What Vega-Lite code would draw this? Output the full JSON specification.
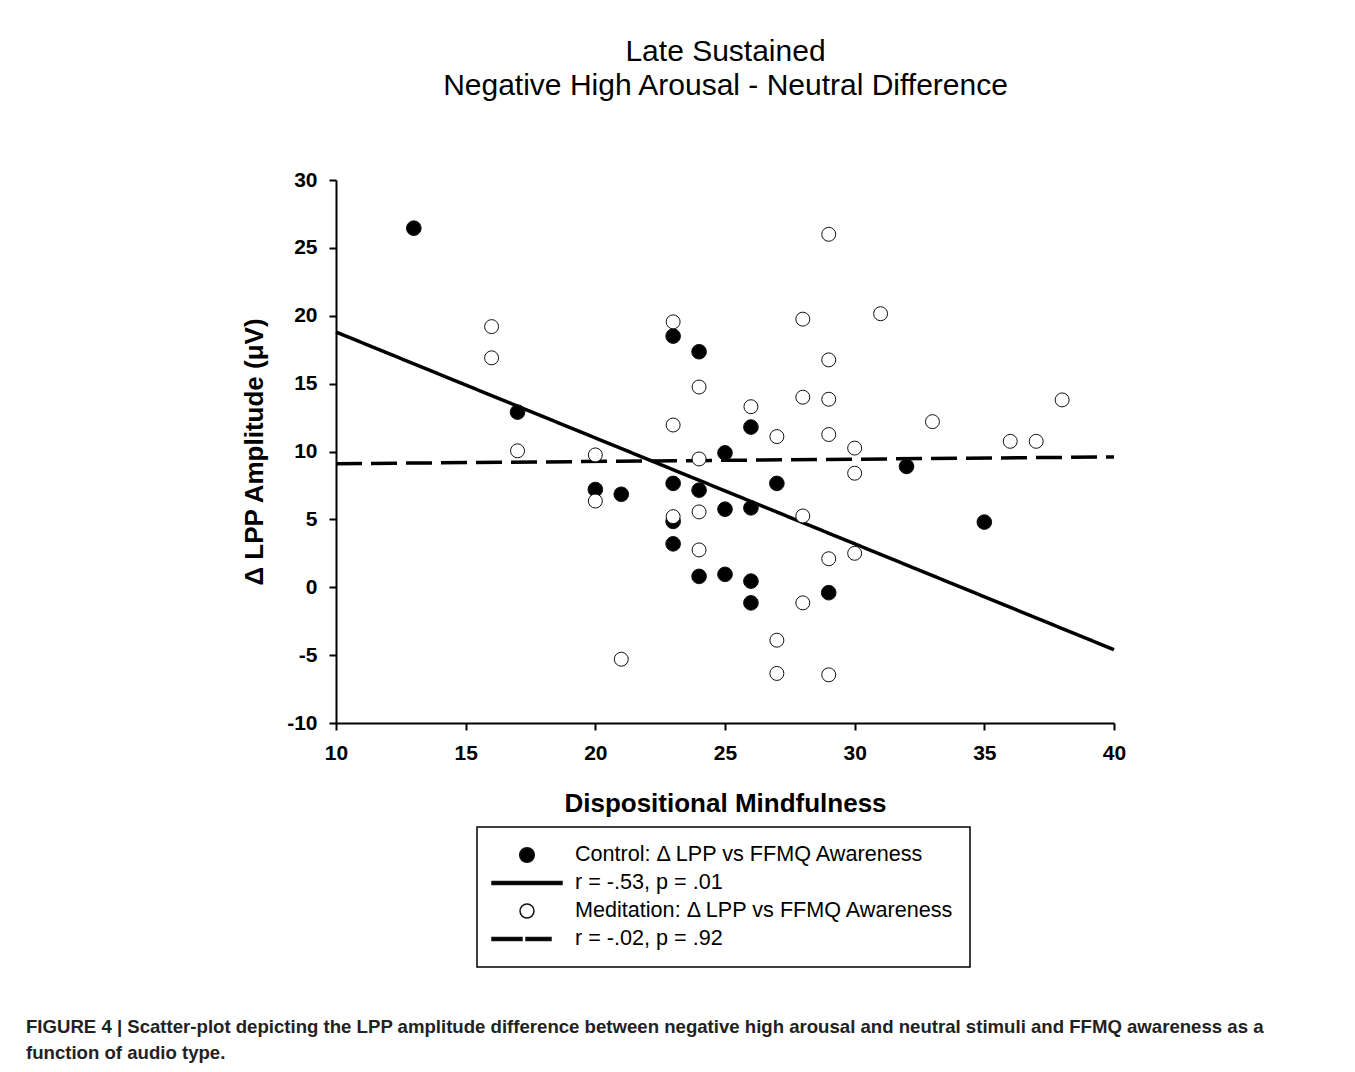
{
  "$schema": "https://vega.github.io/schema/vega-lite/v6.json",
  "autosize": "none",
  "padding": {"left": 336, "top": 180, "right": 241, "bottom": 349},
  "width": 778,
  "height": 543,
  "background": "white",
  "config": {
    "font": "Liberation Sans",
    "view": {"stroke": null},
    "legend": {"strokeWidth": 1.5},
    "axis": {
      "grid": false,
      "domainColor": "black",
      "domainWidth": 2,
      "tickColor": "black",
      "tickWidth": 2,
      "tickSize": 7,
      "labelFont": "Liberation Sans",
      "labelFontSize": 21,
      "labelFontWeight": "bold",
      "labelColor": "black",
      "titleFont": "Liberation Sans",
      "titleColor": "black",
      "titleFontWeight": "bold"
    }
  },
  "title": {
    "text": [
      "FIGURE 4 | Scatter-plot depicting the LPP amplitude difference between negative high arousal and neutral stimuli and FFMQ awareness as a",
      "function of audio type."
    ],
    "orient": "bottom",
    "anchor": "start",
    "frame": "group",
    "dx": -310,
    "offset": 50,
    "font": "Liberation Sans",
    "fontSize": 18.6,
    "fontWeight": "bold",
    "color": "#222222",
    "lineHeight": 26
  },
  "datasets": {
    "fits": [
      {"series": "Control fit", "x": 10, "y": 18.8},
      {"series": "Control fit", "x": 40, "y": -4.6},
      {"series": "Meditation fit", "x": 10, "y": 9.1},
      {"series": "Meditation fit", "x": 40, "y": 9.6}
    ],
    "points": [
      {"group": "Control", "x": 13, "y": 26.45},
      {"group": "Control", "x": 17, "y": 12.9},
      {"group": "Control", "x": 20, "y": 7.2},
      {"group": "Control", "x": 21, "y": 6.85},
      {"group": "Control", "x": 23, "y": 18.5},
      {"group": "Control", "x": 23, "y": 7.65},
      {"group": "Control", "x": 23, "y": 4.85},
      {"group": "Control", "x": 23, "y": 3.2},
      {"group": "Control", "x": 24, "y": 17.35},
      {"group": "Control", "x": 24, "y": 7.15},
      {"group": "Control", "x": 24, "y": 0.8},
      {"group": "Control", "x": 25, "y": 9.9},
      {"group": "Control", "x": 25, "y": 5.75},
      {"group": "Control", "x": 25, "y": 0.95},
      {"group": "Control", "x": 26, "y": 11.8},
      {"group": "Control", "x": 26, "y": 5.85},
      {"group": "Control", "x": 26, "y": 0.45},
      {"group": "Control", "x": 26, "y": -1.15},
      {"group": "Control", "x": 27, "y": 7.65},
      {"group": "Control", "x": 29, "y": -0.4},
      {"group": "Control", "x": 32, "y": 8.9},
      {"group": "Control", "x": 35, "y": 4.8},
      {"group": "Meditation", "x": 16, "y": 19.2},
      {"group": "Meditation", "x": 16, "y": 16.9},
      {"group": "Meditation", "x": 17, "y": 10.05},
      {"group": "Meditation", "x": 20, "y": 9.75},
      {"group": "Meditation", "x": 20, "y": 6.35},
      {"group": "Meditation", "x": 21, "y": -5.3},
      {"group": "Meditation", "x": 23, "y": 19.55},
      {"group": "Meditation", "x": 23, "y": 11.95},
      {"group": "Meditation", "x": 23, "y": 5.2},
      {"group": "Meditation", "x": 24, "y": 14.75},
      {"group": "Meditation", "x": 24, "y": 9.45},
      {"group": "Meditation", "x": 24, "y": 5.55},
      {"group": "Meditation", "x": 24, "y": 2.75},
      {"group": "Meditation", "x": 26, "y": 13.3},
      {"group": "Meditation", "x": 27, "y": 11.1},
      {"group": "Meditation", "x": 27, "y": -3.9},
      {"group": "Meditation", "x": 27, "y": -6.35},
      {"group": "Meditation", "x": 28, "y": 19.75},
      {"group": "Meditation", "x": 28, "y": 14.0},
      {"group": "Meditation", "x": 28, "y": 5.25},
      {"group": "Meditation", "x": 28, "y": -1.15},
      {"group": "Meditation", "x": 29, "y": 26.0},
      {"group": "Meditation", "x": 29, "y": 16.75},
      {"group": "Meditation", "x": 29, "y": 13.85},
      {"group": "Meditation", "x": 29, "y": 11.25},
      {"group": "Meditation", "x": 29, "y": 2.1},
      {"group": "Meditation", "x": 29, "y": -6.45},
      {"group": "Meditation", "x": 30, "y": 10.25},
      {"group": "Meditation", "x": 30, "y": 8.4},
      {"group": "Meditation", "x": 30, "y": 2.5},
      {"group": "Meditation", "x": 31, "y": 20.15},
      {"group": "Meditation", "x": 33, "y": 12.2},
      {"group": "Meditation", "x": 36, "y": 10.75},
      {"group": "Meditation", "x": 37, "y": 10.75},
      {"group": "Meditation", "x": 38, "y": 13.8}
    ]
  },
  "layer": [
    {
      "data": {"name": "fits"},
      "mark": {"type": "line", "color": "black", "strokeWidth": 3.5, "strokeCap": "butt"},
      "encoding": {
        "x": {
          "field": "x",
          "type": "quantitative",
          "scale": {"domain": [10, 40], "nice": false, "zero": false},
          "axis": {
            "orient": "top",
            "domain": false,
            "ticks": false,
            "labels": false,
            "grid": false,
            "title": ["Late Sustained", "Negative High Arousal - Neutral Difference"],
            "titleFontSize": 30,
            "titleFontWeight": "normal",
            "titleLineHeight": 34,
            "titlePadding": 80
          }
        },
        "y": {
          "field": "y",
          "type": "quantitative",
          "scale": {"domain": [-10, 30], "nice": false, "zero": false},
          "title": "Δ LPP Amplitude (μV)"
        },
        "strokeDash": {
          "field": "series",
          "type": "nominal",
          "scale": {"domain": ["Control fit", "Meditation fit"], "range": [[1, 0], [26, 9]]},
          "legend": null
        }
      }
    },
    {
      "data": {"name": "points"},
      "mark": {"type": "point", "filled": true, "stroke": "#111111", "strokeWidth": 1, "opacity": 1},
      "encoding": {
        "x": {
          "field": "x",
          "type": "quantitative",
          "axis": {
            "title": "Dispositional Mindfulness",
            "values": [10, 15, 20, 25, 30, 35, 40],
            "titleFontSize": 26,
            "titlePadding": 27,
            "labelPadding": 12,
            "labelFlush": false
          }
        },
        "y": {
          "field": "y",
          "type": "quantitative",
          "axis": {
            "title": "Δ LPP Amplitude (μV)",
            "values": [-10, -5, 0, 5, 10, 15, 20, 25, 30],
            "labelExpr": "'' + datum.value",
            "titleFontSize": 26,
            "titlePadding": 19,
            "labelPadding": 12,
            "labelFlush": false
          }
        },
        "fill": {
          "field": "group",
          "type": "nominal",
          "scale": {"domain": ["Control", "Control fit", "Meditation", "Meditation fit"], "range": ["black", "black", "white", "black"]},
          "legend": {
            "title": null,
            "orient": "none",
            "legendX": 141,
            "legendY": 647,
            "padding": 14,
            "strokeColor": "black",
            "fillColor": "white",
            "rowPadding": 0,
            "clipHeight": 28,
            "labelOffset": 12,
            "labelFont": "Liberation Sans",
            "labelFontSize": 21.6,
            "labelColor": "black",
            "labelLimit": 600,
            "labelExpr": "datum.value == 'Control' ? 'Control: Δ LPP vs FFMQ Awareness' : datum.value == 'Control fit' ? 'r = -.53, p = .01' : datum.value == 'Meditation' ? 'Meditation: Δ LPP vs FFMQ Awareness' : 'r = -.02, p = .92'"
          }
        },
        "shape": {
          "field": "group",
          "type": "nominal",
          "scale": {
            "domain": ["Control", "Control fit", "Meditation", "Meditation fit"],
            "range": [
              "circle",
              "M-1,-0.043H1V0.043H-1Z",
              "circle",
              "M-1,-0.043H-0.143V0.043H-1ZM-0.029,-0.043H0.686V0.043H-0.029Z"
            ]
          }
        },
        "size": {
          "field": "group",
          "type": "nominal",
          "scale": {
            "type": "ordinal",
            "domain": ["Control", "Control fit", "Meditation", "Meditation fit"],
            "range": [215, 4900, 195, 4900]
          }
        }
      }
    }
  ],
  "resolve": {"axis": {"x": "independent"}}
}
